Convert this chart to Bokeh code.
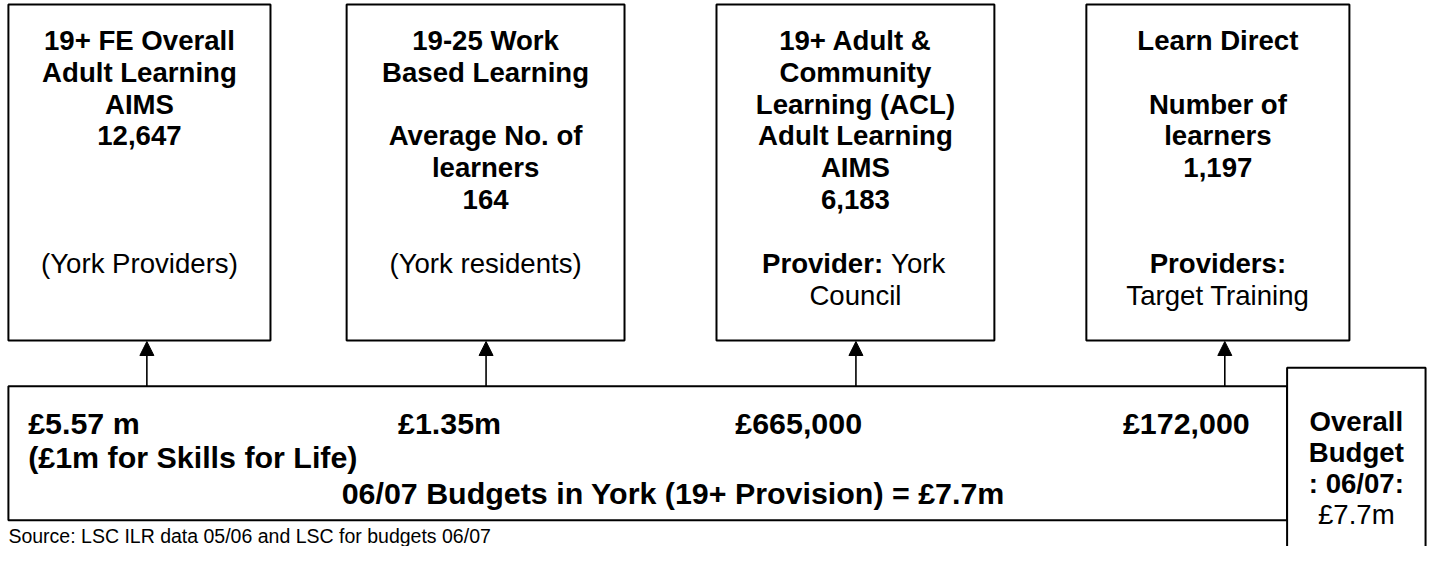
from bokeh.plotting import figure
from bokeh.models import Range1d, Arrow, NormalHead, ColumnDataSource
from bokeh.core.properties import value
from bokeh.embed import file_html
from bokeh.resources import INLINE

# ---------------- data ----------------
programmes = ["19+ FE Overall Adult Learning AIMS",
              "19-25 Work Based Learning",
              "19+ Adult & Community Learning (ACL) Adult Learning AIMS",
              "Learn Direct"]
learner_counts = ["12,647", "164", "6,183", "1,197"]
budgets = ["£5.57 m", "£1.35m", "£665,000", "£172,000"]
skills_note = "(£1m for Skills for Life)"
total_line = "06/07 Budgets in York (19+ Provision) = £7.7m"
overall_title = ["Overall", "Budget", ": 06/07:"]
overall_value = "£7.7m"
source_note = "Source: LSC ILR data 05/06 and LSC for budgets 06/07"

# box contents: (line number, text, bold)
box_lines = [
    [(1, "19+ FE Overall", True), (2, "Adult Learning", True), (3, "AIMS", True),
     (4, learner_counts[0], True), (8, "(York Providers)", False)],
    [(1, "19-25 Work", True), (2, "Based Learning", True), (4, "Average No. of", True),
     (5, "learners", True), (6, learner_counts[1], True), (8, "(York residents)", False)],
    [(1, "19+ Adult &", True), (2, "Community", True), (3, "Learning (ACL)", True),
     (4, "Adult Learning", True), (5, "AIMS", True), (6, learner_counts[2], True),
     (9, "Council", False)],
    [(1, "Learn Direct", True), (3, "Number of", True), (4, "learners", True),
     (5, learner_counts[3], True), (8, "Providers:", True), (9, "Target Training", False)],
]

# ---------------- layout (page coordinates of the reference) ----------------
box_left = [8, 350, 724, 1098]
box_right = [273, 631, 1005, 1364]
box_top, box_bottom = 4, 350
arrow_x = [148, 491, 865, 1238]
base_left, base_right, base_top, base_bottom = 8, 1301, 397, 535
ov_left, ov_right, ov_top = 1301, 1441, 378
budget_x = [28, 402, 743, 1135]

def line_y(n):
    return 41 + (n - 1) * 32.8

FONT = value("Liberation Sans")
FS_TOP = "27.6px"
FS_BASE = "30.4px"

p = figure(width=1430, height=546, x_range=Range1d(0, 1446), y_range=Range1d(562, 0),
           output_backend="svg", toolbar_location=None, min_border=0,
           x_axis_location=None, y_axis_location=None)
p.grid.visible = False
p.outline_line_color = None
p.background_fill_color = "white"

# top boxes
p.quad(left=box_left, right=box_right, top=[box_top] * 4, bottom=[box_bottom] * 4,
       fill_color="white", line_color="black", line_width=2)

# base box
p.quad(left=[base_left], right=[base_right], top=[base_top], bottom=[base_bottom],
       fill_color="white", line_color="black", line_width=2)

# arrows
asrc = ColumnDataSource(dict(x0=arrow_x, y0=[base_top] * 4, x1=arrow_x, y1=[box_bottom + 1] * 4))
p.add_layout(Arrow(end=NormalHead(size=14, fill_color="black", line_color="black", line_width=1),
                   x_start="x0", y_start="y0", x_end="x1", y_end="y1",
                   line_width=1.6, line_color="black", source=asrc))

# overall box
p.quad(left=[ov_left], right=[ov_right], top=[ov_top], bottom=[620],
       fill_color="white", line_color="black", line_width=2)

# box texts
bx, by, bt, rx, ry, rt = [], [], [], [], [], []
for i, lines in enumerate(box_lines):
    cx = (box_left[i] + box_right[i]) / 2
    for n, t, bold in lines:
        if bold:
            bx.append(cx); by.append(line_y(n)); bt.append(t)
        else:
            rx.append(cx); ry.append(line_y(n)); rt.append(t)

p.text(x=bx, y=by, text=bt, text_font=FONT, text_font_style="bold", text_font_size=FS_TOP,
       text_align="center", text_baseline="alphabetic", text_color="black")
p.text(x=rx, y=ry, text=rt, text_font=FONT, text_font_size=FS_TOP,
       text_align="center", text_baseline="alphabetic", text_color="black")

# mixed line "Provider: York"
p.text(x=[892.5], y=[line_y(8)], text=["Provider:"], text_font=FONT, text_font_style="bold",
       text_font_size=FS_TOP, text_align="right", text_baseline="alphabetic")
p.text(x=[900.5], y=[line_y(8)], text=["York"], text_font=FONT,
       text_font_size=FS_TOP, text_align="left", text_baseline="alphabetic")

# budget texts
p.text(x=budget_x, y=[435] * 4, text=budgets, text_font=FONT, text_font_style="bold",
       text_font_size=FS_BASE, text_align="left", text_baseline="alphabetic")
p.text(x=[28], y=[470], text=[skills_note], text_font=FONT, text_font_style="bold",
       text_font_size=FS_BASE, text_align="left", text_baseline="alphabetic")
p.text(x=[345], y=[507], text=[total_line], text_font=FONT, text_font_style="bold",
       text_font_size=FS_BASE, text_align="left", text_baseline="alphabetic")

# overall box text
ocx = (ov_left + ov_right) / 2
p.text(x=[ocx] * 3, y=[433, 465, 497], text=overall_title, text_font=FONT,
       text_font_style="bold", text_font_size=FS_TOP, text_align="center",
       text_baseline="alphabetic")
p.text(x=[ocx], y=[529], text=[overall_value], text_font=FONT, text_font_size=FS_TOP,
       text_align="center", text_baseline="alphabetic")

# source
p.text(x=[8], y=[551], text=[source_note], text_font=FONT, text_font_size="19.5px",
       text_align="left", text_baseline="alphabetic")

open("out.html", "w").write(file_html(p, INLINE))
